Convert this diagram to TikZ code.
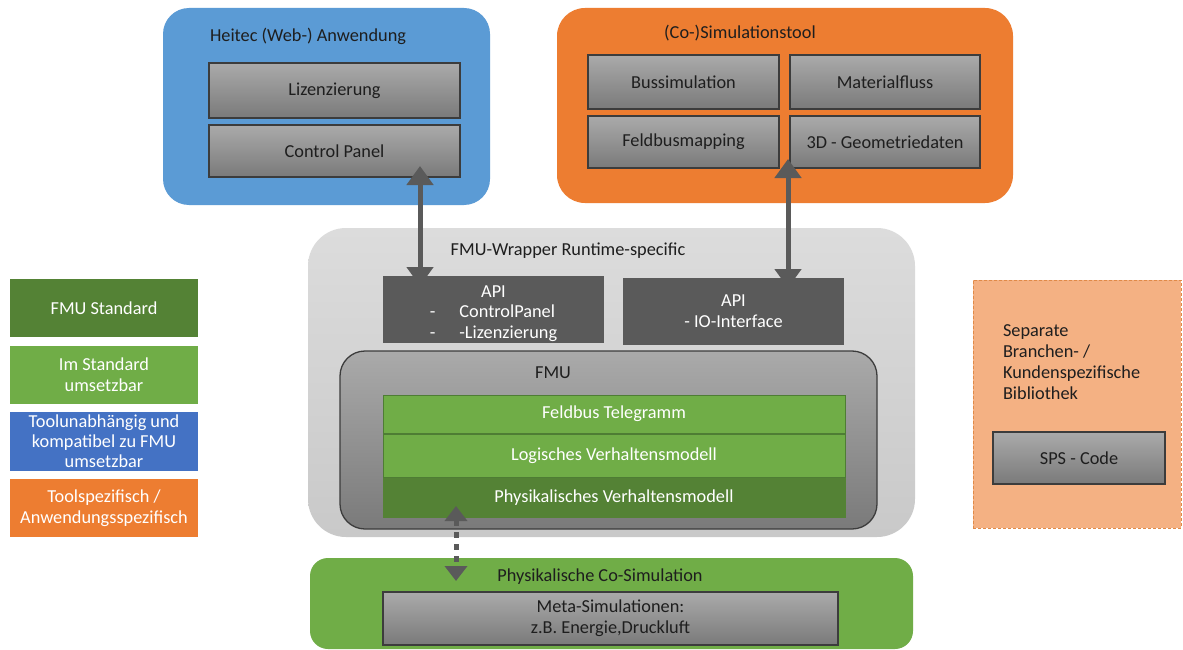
\documentclass[tikz,border=0pt]{standalone}
\usepackage{fontspec}
\setmainfont{Carlito}
\usetikzlibrary{arrows.meta}
\definecolor{webblue}{HTML}{5B9BD5}
\definecolor{toolorange}{HTML}{ED7D31}
\definecolor{lgreen}{HTML}{70AD47}
\definecolor{dgreen}{HTML}{548235}
\definecolor{barline}{HTML}{4E7D34}
\definecolor{legblue}{HTML}{4472C4}
\definecolor{peach}{HTML}{F4B183}
\definecolor{peachedge}{HTML}{E08A48}
\definecolor{gtop}{HTML}{AAAAAA}
\definecolor{gbot}{HTML}{7A7A7A}
\definecolor{edgegray}{HTML}{3C3C3C}
\definecolor{apigray}{HTML}{5A5A5A}
\definecolor{wraptop}{HTML}{DCDCDC}
\definecolor{wrapbot}{HTML}{C9C9C9}
\definecolor{txt}{HTML}{1E1E1E}
\begin{document}
\begin{tikzpicture}[x=1pt,y=-1pt,
  font=\fontsize{18.3}{21}\selectfont,
  every node/.style={inner sep=0pt, outer sep=0pt},
  container/.style={rounded corners=#1},
  grayblock/.style={draw=edgegray, line width=1.3pt, top color=gtop, bottom color=gbot, text=txt, align=center},
  apiblock/.style={fill=apigray, text=white, align=center},
  greenbar/.style={fill=lgreen, draw=barline, line width=0.8pt, text=white, align=center},
  legendbox/.style={text=white, align=center, minimum width=188pt},
  title/.style={text=txt},
  bigarrow/.style={draw=apigray, line width=5pt, {Triangle[width=26pt,length=19pt]}-{Triangle[width=26pt,length=19pt]}},
  dotarrow/.style={draw=apigray, line width=5pt, dash pattern=on 6pt off 6pt, {Triangle[width=22pt,length=15pt]}-{Triangle[width=22pt,length=15pt]}}
]
\useasboundingbox (0,0) rectangle (1183,650);
\fill[white] (0,0) rectangle (1183,650);

% Heitec web application
\node[container=26pt, fill=webblue, minimum width=327pt, minimum height=197pt] (web) at (326.5,106.5) {};
\node[title, anchor=west] (webtitle) at (210,36) {Heitec (Web-) Anwendung};
\node[grayblock, minimum width=251pt, minimum height=55pt] (liz) at (334.5,90.5) {Lizenzierung};
\node[grayblock, minimum width=251pt, minimum height=52pt] (cp) at (334.5,151) {Control Panel};

% Co-Simulation tool
\node[container=28pt, fill=toolorange, minimum width=456pt, minimum height=195pt] (tool) at (785,105.5) {};
\node[title] (tooltitle) at (740,33) {(Co-)Simulationstool};
\node[grayblock, minimum width=191pt, minimum height=54pt] (bus) at (683.5,82) {Bussimulation};
\node[grayblock, minimum width=190pt, minimum height=54pt] (mat) at (885,82) {Materialfluss};
\node[grayblock, minimum width=191pt, minimum height=52pt] (feld) at (683.5,142) {Feldbusmapping};
\node[grayblock, minimum width=190pt, minimum height=52pt] (geo) at (885,142) {3D - Geometriedaten};

% FMU wrapper
\node[container=38pt, top color=wraptop, bottom color=wrapbot, minimum width=607pt, minimum height=309pt] (wrap) at (611.5,382.5) {};
\node[title] (wraptitle) at (568,251) {FMU-Wrapper Runtime-specific};
\node[apiblock, minimum width=221pt, minimum height=67pt] (apiL) at (493.5,309.5) {};
\node[text=white, align=center] (apiLtext) at (493.5,315)
  {API\\[4pt]\begin{tabular}{@{}l@{\hspace{24pt}}l@{}}-&ControlPanel\\-&-Lizenzierung\end{tabular}};
\node[apiblock, minimum width=221pt, minimum height=67pt] (apiR) at (733.5,311.5) {API\\- IO-Interface};

% FMU
\node[container=25pt, draw=edgegray, line width=1.3pt, top color=gtop, bottom color=gbot, minimum width=537pt, minimum height=178pt] (fmu) at (608.5,440) {};
\node[title] (fmutitle) at (553,373) {FMU};
\node[greenbar, minimum width=462pt, minimum height=38pt] (feldT) at (614,414) {Feldbus Telegramm};
\node[greenbar, minimum width=462pt, minimum height=43pt] (logi) at (614,455.5) {Logisches Verhaltensmodell};
\node[greenbar, fill=dgreen, draw=dgreen, minimum width=462pt, minimum height=39pt] (phys) at (614,497.5) {Physikalisches Verhaltensmodell};

% Physical co-simulation
\node[container=18pt, fill=lgreen, minimum width=603pt, minimum height=91pt] (cosim) at (611.5,603.5) {};
\node[title] (cosimtitle) at (600,577) {Physikalische Co-Simulation};
\node[grayblock, minimum width=455pt, minimum height=53pt] (meta) at (610.5,618.5) {Meta-Simulationen:\\z.B. Energie,Druckluft};

% Legend
\node[legendbox, fill=dgreen, minimum height=58pt] (leg1) at (104,308) {FMU Standard};
\node[legendbox, fill=lgreen, minimum height=58pt] (leg2) at (104,375) {Im Standard\\umsetzbar};
\node[legendbox, fill=legblue, minimum height=59pt, font=\fontsize{18.3}{20}\selectfont] (leg3) at (104,441.5) {Toolunabhängig und\\kompatibel zu FMU\\umsetzbar};
\node[legendbox, fill=toolorange, minimum height=58pt] (leg4) at (104,508) {Toolspezifisch /\\Anwendungsspezifisch};

% Separate library
\node[fill=peach, draw=peachedge, line width=1pt, dash pattern=on 3pt off 2pt, minimum width=208pt, minimum height=248pt] (lib) at (1077,404) {};
\node[title, anchor=north west, align=left] (libtext) at (1003,325) {Separate\\Branchen- /\\Kundenspezifische\\Bibliothek};
\node[grayblock, minimum width=172pt, minimum height=52pt] (sps) at (1079,458) {SPS - Code};

% Connectors
\coordinate (ax1) at (420,0);
\coordinate (ax2) at (788,0);
\coordinate (ax3) at (456,0);
\draw[bigarrow, shorten <=-11pt, shorten >=-10pt] (cp.south -| ax1) -- (apiL.north -| ax1);
\draw[bigarrow, shorten <=-9pt, shorten >=-10pt] (geo.south -| ax2) -- (apiR.north -| ax2);
\draw[dotarrow, shorten <=-11pt, shorten >=-23pt] (phys.south -| ax3) -- (cosim.north -| ax3);
\end{tikzpicture}
\end{document}
